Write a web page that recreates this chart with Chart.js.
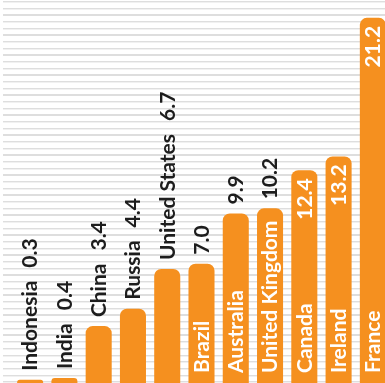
<!DOCTYPE html>
<html>
<head>
<meta charset="utf-8">
<script src="https://cdn.jsdelivr.net/npm/chart.js"></script>
<style>
  html, body { margin: 0; padding: 0; overflow: hidden; background: #fff; }
  #wrap {
    position: absolute; left: 0; top: 0; width: 390px; height: 390px;
    background-image: repeating-linear-gradient(to bottom,
      #ffffff 0px, #ffffff 1px,
      #dedede 1px, #dedede 2.3px,
      #f1f1f1 2.3px, #f1f1f1 3px,
      #ffffff 3px, #ffffff 6.67px);
    background-position: 3px 0;
    background-repeat: repeat-y;
  }
</style>
</head>
<body>
<div id="wrap"><canvas id="chart"></canvas></div>
<script>
// Countries sorted by value, one bar each
const countries = ['Indonesia', 'India', 'China', 'Russia', 'United States', 'Brazil',
  'Australia', 'United Kingdom', 'Canada', 'Ireland', 'France'];
const values = [0.3, 0.4, 3.4, 4.4, 6.7, 7.0, 9.9, 10.2, 12.4, 13.2, 21.2];

const ORANGE = '#f5901f';
const DARK = '#1d1d1d';
const FONT_SIZE = 21;
const FONT = 'bold ' + FONT_SIZE + 'px Lato, sans-serif';

// vertical labels: name (and value) inside the bar when it fits, otherwise above it
const barLabels = {
  id: 'barLabels',
  afterDatasetsDraw(chart) {
    const ctx = chart.ctx;
    const meta = chart.getDatasetMeta(0);
    ctx.save();
    ctx.font = FONT;
    ctx.textBaseline = 'alphabetic';
    meta.data.forEach((bar, i) => {
      const name = countries[i];
      const val = values[i].toFixed(1);
      const h = bar.base - bar.y;
      const nw = ctx.measureText(name).width;
      const vw = ctx.measureText(val).width;
      const off = FONT_SIZE * 0.35;

      ctx.save();
      ctx.translate(bar.x, bar.base);
      ctx.rotate(-Math.PI / 2);
      if (12 + nw + 6 <= h) {
        ctx.fillStyle = '#fff';
        ctx.textAlign = 'left';
        ctx.fillText(name, 12, off);
        if (12 + nw + 50 + vw + 8 <= h) {
          ctx.textAlign = 'right';
          ctx.fillText(val, h - 8, off);
        } else {
          ctx.fillStyle = DARK;
          ctx.textAlign = 'left';
          ctx.fillText(val, h + 9, off);
        }
      } else {
        ctx.fillStyle = DARK;
        ctx.textAlign = 'left';
        ctx.fillText(name, h + 9, off);
        ctx.fillText(val, h + 9 + nw + 13, off);
      }
      ctx.restore();
    });
    ctx.restore();
  }
};

new Chart(document.getElementById('chart'), {
  type: 'bar',
  data: {
    labels: countries,
    datasets: [{
      data: values,
      backgroundColor: ORANGE,
      borderWidth: 0,
      borderSkipped: 'bottom',
      borderRadius: { topLeft: 7, topRight: 7, bottomLeft: 0, bottomRight: 0 },
      barPercentage: 0.76,
      categoryPercentage: 1
    }]
  },
  options: {
    responsive: true,
    maintainAspectRatio: false,
    animation: false,
    layout: { padding: { left: 13, right: 0, top: 4, bottom: 5 } },
    plugins: {
      legend: { display: false },
      tooltip: { enabled: false }
    },
    scales: {
      x: { display: false },
      y: { display: false, min: 0, max: 22 }
    }
  },
  plugins: [barLabels]
});
</script>
</body>
</html>
